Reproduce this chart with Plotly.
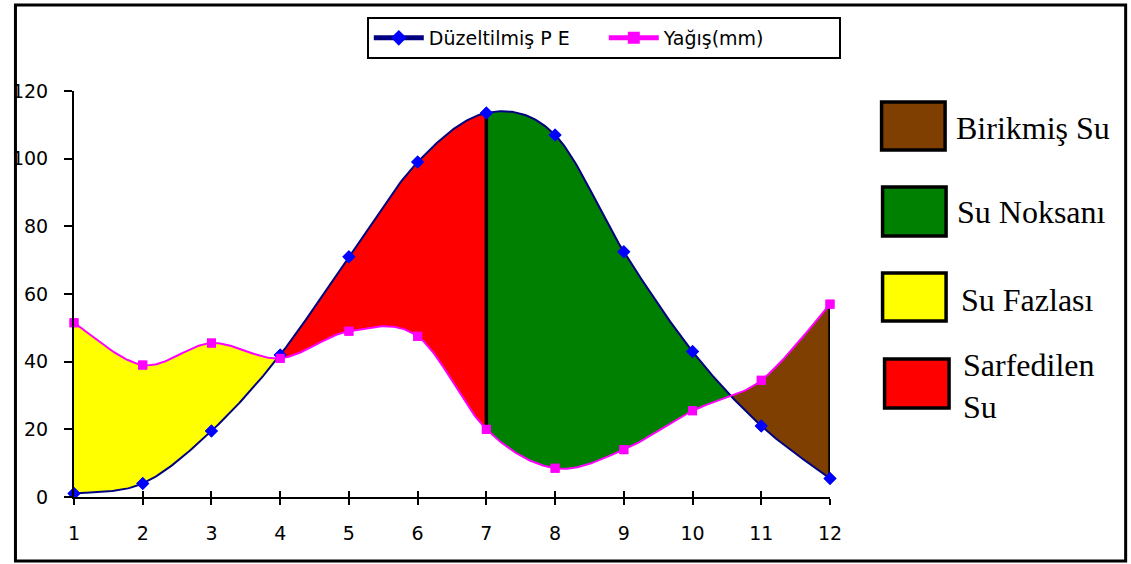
import numpy as np
import plotly.graph_objects as go

# Monthly values (month number on the x axis)
months = [1, 2, 3, 4, 5, 6, 7, 8, 9, 10, 11, 12]
pe_adjusted = [1, 4, 19.5, 42, 71, 99, 113.5, 107, 72.5, 43, 21, 5.5]
precip_mm = [51.5, 39, 45.5, 41, 49, 47.5, 20, 8.5, 14, 25.5, 34.5, 57]

series_names = ["Düzeltilmiş P E", "Yağış(mm)"]
zone_labels = ["Birikmiş Su", "Su Noksanı", "Su Fazlası", "Sarfedilen<br>Su"]
zone_colors = ["#7F3F00", "#008000", "#FFFF00", "#FF0000"]

W, H = 1131, 564
L, R, T, B = 68, 301, 91, 67
PW, PH = W - L - R, H - T - B
SEG = 40


def px_to_paper(px, py):
    return (px - L) / PW, (H - B - py) / PH


def smooth(xs, ys, n=SEG):
    """Catmull-Rom style Bezier smoothing through the points."""
    P = np.column_stack([xs, ys]).astype(float)
    Pe = np.vstack([P[0], P, P[-1]])
    out = []
    t = np.linspace(0, 1, n, endpoint=False)[:, None]
    for i in range(len(P) - 1):
        p0, p1, p2, p3 = Pe[i], Pe[i + 1], Pe[i + 2], Pe[i + 3]
        b1 = p1 + (p2 - p0) / 6
        b2 = p2 - (p3 - p1) / 6
        seg = ((1 - t) ** 3) * p1 + 3 * ((1 - t) ** 2) * t * b1 + 3 * (1 - t) * t ** 2 * b2 + t ** 3 * p2
        out.append(seg)
    out.append(P[-1][None, :])
    c = np.vstack(out)
    return c[:, 0], c[:, 1]


pe_x, pe_y = smooth(months, pe_adjusted)
pr_x, pr_y = smooth(months, precip_mm)

grid = np.linspace(1, 12, 2201)
pe_g = np.interp(grid, pe_x, pe_y)
pr_g = np.interp(grid, pr_x, pr_y)

# crossing of the two curves between months 10 and 11
diff = pe_g - pr_g
mask = (grid > 10) & (grid < 11.5)
idx = np.where(mask[:-1] & (np.sign(diff[:-1]) != np.sign(diff[1:])))[0][0]
x_cross = grid[idx]

fig = go.Figure()


def add_zone(a, b, color):
    m = (grid >= a - 1e-9) & (grid <= b + 1e-9)
    xs = grid[m]
    fig.add_trace(go.Scatter(
        x=np.concatenate([xs, xs[::-1]]),
        y=np.concatenate([pe_g[m], pr_g[m][::-1]]),
        fill="toself", fillcolor=color, mode="lines",
        line=dict(width=0, color=color), showlegend=False, hoverinfo="skip"))


add_zone(1, 4, zone_colors[2])
add_zone(4, 7, zone_colors[3])
add_zone(7, x_cross, zone_colors[1])
add_zone(x_cross, 12, zone_colors[0])

# vertical separators at months 7 and 12
for i in (6, 11):
    fig.add_trace(go.Scatter(
        x=[months[i], months[i]], y=[precip_mm[i], pe_adjusted[i]],
        mode="lines", line=dict(color="black", width=3.5),
        showlegend=False, hoverinfo="skip", cliponaxis=False))

# smoothed curves (legend entries show line + marker symbol)
is_point = [0] * len(pe_x)
for k in range(len(months)):
    is_point[k * SEG] = 1
fig.add_trace(go.Scatter(x=pe_x, y=pe_y, mode="lines+markers", name=series_names[0],
                         line=dict(color="#000080", width=2),
                         marker=dict(symbol="diamond", size=[10 * p for p in is_point],
                                     color="#0000FF", opacity=1, line=dict(width=0)),
                         hoverinfo="skip", cliponaxis=False))
fig.add_trace(go.Scatter(x=pr_x, y=pr_y, mode="lines+markers", name=series_names[1],
                         line=dict(color="#FF00FF", width=2),
                         marker=dict(symbol="square", size=[9 * p for p in is_point],
                                     color="#FF00FF", opacity=1, line=dict(width=0)),
                         hoverinfo="skip", cliponaxis=False))

# monthly point markers
fig.add_trace(go.Scatter(x=months, y=pe_adjusted, mode="markers", showlegend=False,
                         marker=dict(symbol="diamond", size=10, color="#0000FF", opacity=1,
                                     line=dict(width=0)),
                         cliponaxis=False))
fig.add_trace(go.Scatter(x=months, y=precip_mm, mode="markers", showlegend=False,
                         marker=dict(symbol="square", size=9, color="#FF00FF", opacity=1,
                                     line=dict(width=0)),
                         cliponaxis=False))

# helper axis carrying the upward half of the x ticks
fig.add_trace(go.Scatter(x=[1, 12], y=[None, None], xaxis="x2", showlegend=False,
                         hoverinfo="skip", mode="lines"))

shapes = []
# outer frame
fx0, fy0 = px_to_paper(9, 561)
fx1, fy1 = px_to_paper(1128, 5)
shapes.append(dict(type="rect", xref="paper", yref="paper", x0=fx0, y0=fy0, x1=fx1, y1=fy1,
                   line=dict(color="black", width=3), fillcolor="rgba(0,0,0,0)", layer="below"))

# side key boxes and labels
box_px = [(882, 102, 946, 150), (883, 187, 947, 236), (883, 273, 947, 321), (885, 359, 950, 408)]
text_px = [(955, 128), (956, 212), (960, 300), (962, 386)]
annotations = []
for (bx0, by0, bx1, by1), (tx, ty), lab, col in zip(box_px, text_px, zone_labels, zone_colors):
    x0, y0 = px_to_paper(bx0, by1)
    x1, y1 = px_to_paper(bx1, by0)
    shapes.append(dict(type="rect", xref="paper", yref="paper", x0=x0, y0=y0, x1=x1, y1=y1,
                       fillcolor=col, line=dict(color="black", width=3.5)))
    ax, ay = px_to_paper(tx, ty)
    annotations.append(dict(x=ax, y=ay, xref="paper", yref="paper", text=lab, showarrow=False,
                            xanchor="left", yanchor="middle", align="left",
                            font=dict(family="Liberation Serif", size=32, color="black")))

lgx, lgy = px_to_paper(602, 17)

fig.update_layout(
    width=W, height=H,
    margin=dict(l=L, r=R, t=T, b=B),
    paper_bgcolor="white", plot_bgcolor="white",
    font=dict(family="DejaVu Sans", size=19, color="black"),
    showlegend=True,
    legend=dict(orientation="h", x=lgx, y=lgy, xanchor="center", yanchor="top",
                bordercolor="black", borderwidth=2, bgcolor="white",
                font=dict(family="DejaVu Sans", size=19), itemsizing="constant",
                itemwidth=50, entrywidth=170, tracegroupgap=0),
    xaxis=dict(range=[1, 12], tickvals=months, ticktext=[str(m) for m in months],
               showgrid=False, zeroline=False, showline=True, linecolor="black", linewidth=2,
               ticks="outside", ticklen=6, tickwidth=2, tickcolor="black",
               ticklabelstandoff=12, fixedrange=True),
    xaxis2=dict(range=[1, 12], overlaying="x", anchor="y", side="bottom", tickvals=months,
                showticklabels=False, showgrid=False, zeroline=False, showline=False,
                ticks="inside", ticklen=6, tickwidth=2, tickcolor="black"),
    yaxis=dict(range=[0, 120], tickvals=[0, 20, 40, 60, 80, 100, 120], showgrid=False,
               zeroline=False, showline=True, linecolor="black", linewidth=2,
               ticks="outside", ticklen=8, tickwidth=2, tickcolor="black",
               ticklabelstandoff=12, fixedrange=True),
    shapes=shapes,
    annotations=annotations,
)

fig.write_html("out.html")
